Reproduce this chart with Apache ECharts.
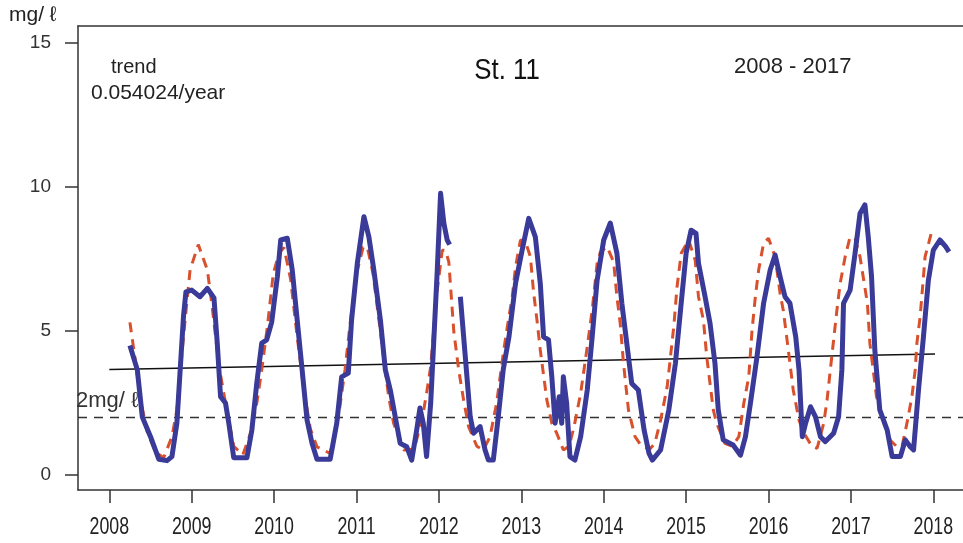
<!DOCTYPE html>
<html>
<head>
<meta charset="utf-8">
<script src="https://cdn.jsdelivr.net/npm/echarts@6/dist/echarts.min.js"></script>
<style>
    html, body {margin: 0; padding: 0; background: #fff;}
    #main {width: 963px; height: 543px;}
</style>
</head>
<body>
<div id="main"></div>
<script>
// 年份刻度
var yearTicks = [2008, 2009, 2010, 2011, 2012, 2013, 2014, 2015, 2016, 2017, 2018];
var valueTicks = [0, 5, 10, 15];

// 实测值 (蓝色实线), null = 缺测
var obsTime = [
    2008.25, 2008.34, 2008.40, 2008.50, 2008.60, 2008.70, 2008.76, 2008.82, 2008.86, 2008.90, 2008.93,
    2009.00, 2009.10, 2009.19, 2009.27, 2009.31, 2009.35, 2009.41, 2009.45, 2009.51, 2009.67, 2009.73, 2009.79, 2009.85, 2009.91, 2009.97,
    2010.04, 2010.08, 2010.16, 2010.22, 2010.28, 2010.34, 2010.40, 2010.46, 2010.52, 2010.68, 2010.76, 2010.82, 2010.90, 2010.94,
    2011.01, 2011.09, 2011.15, 2011.21, 2011.29, 2011.35, 2011.41, 2011.47, 2011.53, 2011.61, 2011.67, 2011.73, 2011.77, 2011.81, 2011.85, 2011.90, 2011.94, 2011.98,
    2012.02, 2012.06, 2012.10, 2012.13, 2012.20, 2012.26, 2012.30, 2012.34, 2012.38, 2012.42, 2012.50, 2012.56, 2012.60, 2012.66, 2012.72, 2012.78, 2012.85, 2012.93,
    2013.01, 2013.09, 2013.17, 2013.23, 2013.27, 2013.33, 2013.37, 2013.41, 2013.46, 2013.49, 2013.51, 2013.55, 2013.59, 2013.65, 2013.72, 2013.80, 2013.86, 2013.92,
    2014.00, 2014.08, 2014.16, 2014.22, 2014.28, 2014.34, 2014.42, 2014.49, 2014.55, 2014.59, 2014.69, 2014.79, 2014.87, 2014.94,
    2015.00, 2015.06, 2015.12, 2015.15, 2015.23, 2015.29, 2015.35, 2015.39, 2015.45, 2015.57, 2015.66, 2015.72, 2015.78, 2015.86, 2015.94,
    2016.02, 2016.08, 2016.14, 2016.20, 2016.26, 2016.33, 2016.37, 2016.41, 2016.45, 2016.51, 2016.57, 2016.63, 2016.69, 2016.79, 2016.85, 2016.89, 2016.91, 2016.99,
    2017.05, 2017.11, 2017.17, 2017.21, 2017.25, 2017.29, 2017.35, 2017.44, 2017.50, 2017.60, 2017.66, 2017.72, 2017.76, 2017.82, 2017.88, 2017.94,
    2018.00, 2018.08, 2018.15, 2018.19
];
var obsValue = [
    4.5, 3.65, 2.02, 1.33, 0.55, 0.5, 0.64, 1.8, 3.65, 5.5, 6.36,
    6.42, 6.19, 6.48, 6.15, 4.58, 2.72, 2.5, 1.8, 0.6, 0.6, 1.56, 3.2, 4.58, 4.69, 5.3,
    6.9, 8.16, 8.22, 7.12, 5.38, 3.65, 1.9, 1.1, 0.55, 0.55, 1.8, 3.41, 3.54, 5.38,
    7.36, 8.97, 8.27, 7.12, 5.38, 3.65, 2.95, 2.02, 1.1, 0.98, 0.52, 1.56, 2.33, 1.8, 0.64, 2.49, 4.8, 7.12,
    9.78, 8.74, 8.16, 8.0, null, 6.19, 4.8, 3.41, 2.02, 1.45, 1.68, 0.87, 0.52, 0.52, 2.02, 3.65, 4.8, 6.66,
    7.81, 8.91, 8.27, 6.66, 4.8, 4.69, 3.41, 1.8, 2.72, 1.8, 3.41, 2.49, 0.64, 0.52, 1.33, 2.95, 4.8, 6.77,
    8.16, 8.75, 7.7, 5.96, 4.57, 3.18, 2.95, 1.56, 0.75, 0.52, 0.87, 2.26, 3.88, 5.96,
    7.7, 8.5, 8.39, 7.35, 6.19, 5.27, 3.88, 2.26, 1.22, 1.04, 0.69, 1.33, 2.49, 4.11, 5.96,
    7.12, 7.64, 6.89, 6.19, 5.96, 4.8, 3.65, 1.33, 1.8, 2.37, 2.02, 1.33, 1.16, 1.45, 2.02, 3.65, 5.96, 6.42,
    7.7, 9.08, 9.38, 8.27, 6.89, 4.34, 2.26, 1.56, 0.64, 0.64, 1.22, 0.98, 0.87, 2.95, 4.8, 6.77,
    7.81, 8.16, 7.93, 7.75
];

// 季节模型 (红色虚线)
var fitTime = [
    2008.25, 2008.30, 2008.38, 2008.46, 2008.56, 2008.66, 2008.76, 2008.82, 2008.90, 2008.98,
    2009.08, 2009.19, 2009.25, 2009.33, 2009.41, 2009.51, 2009.62, 2009.72, 2009.79, 2009.85, 2009.92, 2009.99,
    2010.06, 2010.12, 2010.20, 2010.28, 2010.36, 2010.44, 2010.52, 2010.68, 2010.78, 2010.86, 2010.92,
    2011.00, 2011.08, 2011.13, 2011.20, 2011.28, 2011.35, 2011.39, 2011.45, 2011.57, 2011.70, 2011.80, 2011.85, 2011.90, 2011.97,
    2012.04, 2012.08, 2012.12, 2012.18, 2012.24, 2012.30, 2012.36, 2012.46, 2012.54, 2012.62, 2012.70, 2012.78, 2012.83, 2012.89, 2012.93, 2012.99,
    2013.05, 2013.11, 2013.15, 2013.19, 2013.23, 2013.31, 2013.37, 2013.43, 2013.51, 2013.58, 2013.64, 2013.72, 2013.80, 2013.86, 2013.92, 2013.96,
    2014.04, 2014.12, 2014.16, 2014.20, 2014.24, 2014.30, 2014.38, 2014.46, 2014.56, 2014.62, 2014.69, 2014.77, 2014.81, 2014.85, 2014.89, 2014.94,
    2015.03, 2015.11, 2015.15, 2015.21, 2015.25, 2015.29, 2015.33, 2015.37, 2015.47, 2015.56, 2015.64, 2015.70, 2015.76, 2015.80, 2015.84, 2015.88, 2015.94,
    2016.00, 2016.08, 2016.14, 2016.18, 2016.22, 2016.26, 2016.30, 2016.37, 2016.43, 2016.53, 2016.59, 2016.67, 2016.71, 2016.75, 2016.79, 2016.83, 2016.87, 2016.93, 2016.99,
    2017.05, 2017.11, 2017.20, 2017.23, 2017.27, 2017.31, 2017.40, 2017.48, 2017.56, 2017.62, 2017.68, 2017.74, 2017.78, 2017.80, 2017.84, 2017.87, 2017.90, 2017.98,
    2018.02
];
var fitValue = [
    5.3, 4.3, 2.6, 1.5, 0.8, 0.6, 1.33, 2.26, 4.8, 7.12,
    8.0, 7.12, 5.8, 3.8, 2.5, 1.0, 0.7, 1.5, 2.5, 3.65, 5.2, 7.0,
    7.7, 7.9, 6.8, 4.8, 3.0, 1.6, 0.98, 0.75, 2.0, 3.65, 5.2,
    7.0, 7.9, 7.93, 7.0, 5.2, 3.6, 2.72, 1.8, 0.87, 0.9, 2.0, 2.84, 3.76, 6.2,
    7.8, 7.8, 7.4, 5.0, 3.65, 2.6, 1.68, 1.0, 0.87, 1.33, 2.5, 4.2, 5.15, 6.19, 7.23, 8.16,
    8.1, 7.58, 6.31, 5.38, 4.34, 2.6, 1.8, 1.45, 0.87, 1.0, 1.68, 2.84, 4.45, 5.73, 7.35, 7.75,
    7.93, 7.4, 6.19, 5.27, 3.88, 2.26, 1.33, 1.0, 0.9, 1.1, 1.9, 3.07, 4.11, 5.15, 6.54, 7.7,
    8.16, 7.46, 6.19, 5.38, 4.11, 3.18, 2.26, 1.8, 1.1, 1.0, 1.33, 2.49, 3.41, 5.03, 6.19, 7.12, 8.05,
    8.22, 7.58, 6.31, 5.7, 4.8, 3.88, 2.95, 1.9, 1.45, 0.98, 0.93, 1.8, 2.6, 3.65, 4.69, 5.73, 6.66, 7.58, 8.27,
    8.2, 7.58, 5.96, 4.57, 3.65, 2.72, 1.8, 1.2, 0.98, 1.0, 1.8, 2.72, 3.65, 4.57, 5.5, 6.54, 7.58, 8.45,
    8.5
];

// 趋势线 (0.054024/year)
var trendTime = [2008.0, 2018.02];
var trendValue = [3.66, 4.2];

// 2mg/ℓ 基准线
var limitTime = [2007.62, 2018.36];
var limitValue = [2, 2];

function pairs(t, v){
    var out = [];
    for(var i = 0; i < t.length; i++){
        out.push([t[i], v[i] == null ? '-' : v[i]]);
    }
    return out;
}

var sans = '"Liberation Sans", Arial, sans-serif';
var chart = echarts.init(document.getElementById('main'));

var option = {
    animation: false,
    backgroundColor: '#fff',
    grid: {left: 78, top: 26, right: 0, bottom: 53},
    xAxis: [
        {
            type: 'value',
            min: 2007.62,
            max: 2018.36,
            splitLine: {show: false},
            axisLine: {show: true, onZero: false, lineStyle: {color: '#333', width: 1.5}},
            axisTick: {
                show: true, length: 13,
                customValues: yearTicks,
                lineStyle: {color: '#333', width: 1.5}
            },
            axisLabel: {show: false}   /*年份标签用窄体另画*/
        },
        {   /*上边框*/
            type: 'value', position: 'top',
            min: 2007.62, max: 2018.36,
            splitLine: {show: false},
            axisLine: {show: true, onZero: false, lineStyle: {color: '#333', width: 1.5}},
            axisTick: {show: false},
            axisLabel: {show: false}
        }
    ],
    yAxis: {
        type: 'value',
        min: -0.52,
        max: 15.59,
        splitLine: {show: false},
        axisLine: {show: true, onZero: false, lineStyle: {color: '#333', width: 1.5}},
        axisTick: {
            show: true, length: 13,
            customValues: valueTicks,
            lineStyle: {color: '#333', width: 1.5}
        },
        axisLabel: {
            customValues: valueTicks,
            margin: 27,
            color: '#333',
            fontSize: 19,
            fontFamily: sans
        }
    },
    series: [
        {
            name: 'limit', type: 'line', symbol: 'none', silent: true,
            data: pairs(limitTime, limitValue),
            lineStyle: {color: '#333', width: 1.5, type: [9, 7]}
        },
        {
            name: 'trend', type: 'line', symbol: 'none', silent: true,
            data: pairs(trendTime, trendValue),
            lineStyle: {color: '#111', width: 1.5}
        },
        {
            name: 'fit', type: 'line', symbol: 'none', silent: true,
            data: pairs(fitTime, fitValue),
            lineStyle: {color: '#d8502c', width: 3, type: [10, 7]}
        },
        {
            name: 'obs', type: 'line', symbol: 'none', silent: true,
            connectNulls: false,
            data: pairs(obsTime, obsValue),
            lineStyle: {color: '#3a3a98', width: 5, join: 'round'}
        }
    ]
};
chart.setOption(option);

/*文字: 标题、注释、窄体年份*/
var texts = [
    {type: 'text', left: 9, top: 5, style: {text: 'mg/ ℓ', fontSize: 21, fill: '#222', fontFamily: sans}},
    {type: 'text', left: 111, top: 57, style: {text: 'trend', fontSize: 20, fill: '#222', fontFamily: sans}},
    {type: 'text', left: 91, top: 83, style: {text: '0.054024/year', fontSize: 21, fill: '#222', fontFamily: sans}},
    {type: 'text', x: 507, y: 71, scaleX: 0.86, style: {text: 'St. 11', fontSize: 30, fill: '#111', fontFamily: sans, align: 'center', verticalAlign: 'middle'}},
    {type: 'text', left: 734, top: 56, style: {text: '2008 - 2017', fontSize: 22, fill: '#222', fontFamily: sans}},
    {type: 'text', left: 76, top: 390, style: {text: '2mg/ ℓ', fontSize: 22, fill: '#333', fontFamily: sans}}
];
var labelY = chart.convertToPixel({yAxisIndex: 0}, -0.52) + 37;
yearTicks.forEach(function(yr){
    texts.push({
        type: 'text',
        x: chart.convertToPixel({xAxisIndex: 0}, yr),
        y: labelY,
        scaleX: 0.74,
        style: {text: String(yr), fontSize: 24, fill: '#222', fontFamily: sans, align: 'center', verticalAlign: 'middle'}
    });
});
chart.setOption({graphic: texts});
</script>
</body>
</html>
